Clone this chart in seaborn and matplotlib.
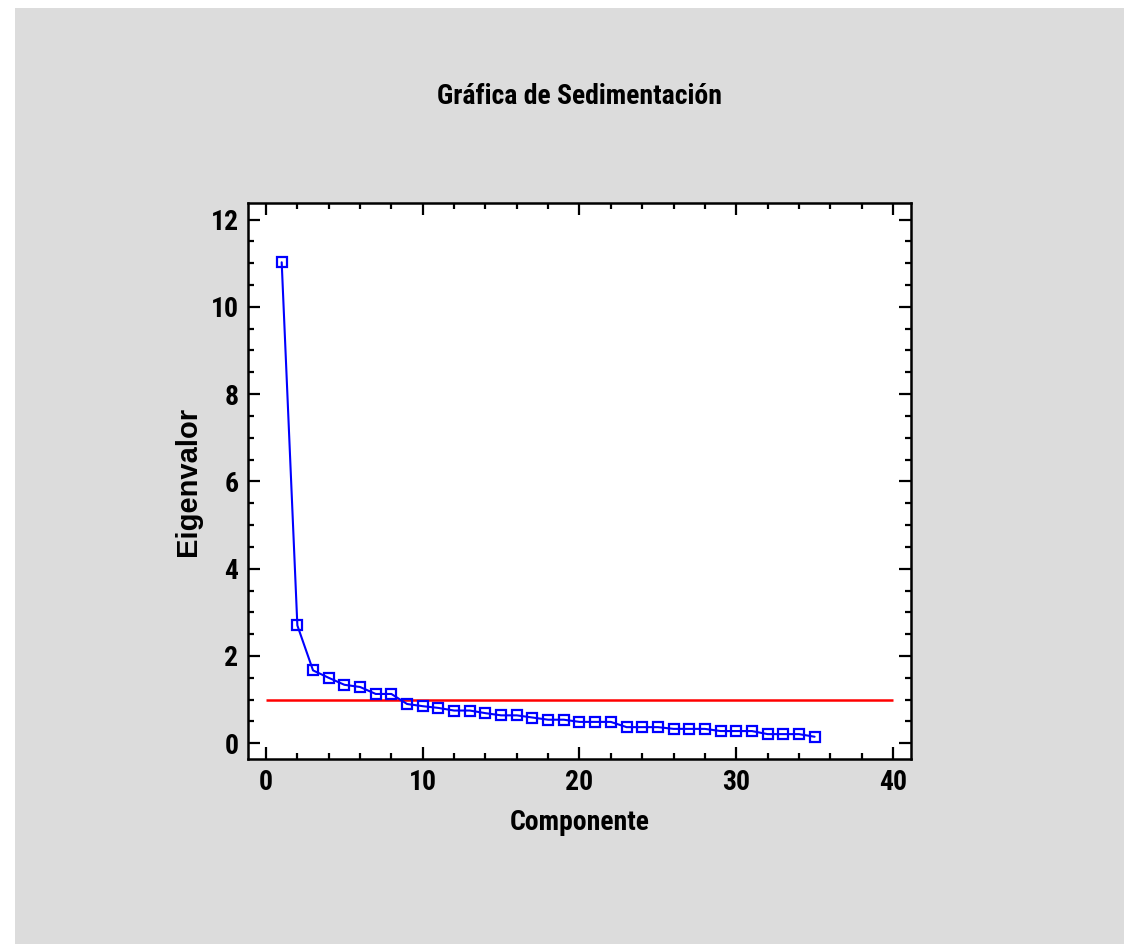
import numpy as np
import matplotlib
matplotlib.use("Agg")
import matplotlib.pyplot as plt
from matplotlib.patches import Rectangle
from matplotlib.ticker import MultipleLocator
import seaborn as sns

# Datos de la gráfica de sedimentación
eigenvalores = [11.02, 2.70, 1.67, 1.50, 1.34, 1.29, 1.13, 1.13, 0.90, 0.85,
                0.81, 0.75, 0.75, 0.69, 0.64, 0.64, 0.59, 0.54, 0.54, 0.49,
                0.49, 0.49, 0.37, 0.37, 0.37, 0.33, 0.33, 0.33, 0.28, 0.28,
                0.28, 0.21, 0.21, 0.21, 0.15]
componentes = list(range(1, len(eigenvalores) + 1))

criterio = 1.0          # línea de referencia (eigenvalor = 1)
criterio_x = [0, 40]    # extremos de la línea

xticks = [0, 10, 20, 30, 40]
yticks = [0, 2, 4, 6, 8, 10, 12]

titulo = "Gráfica de Sedimentación"
xlabel = "Componente"
ylabel = "Eigenvalor"

# Estilo
sns.set_theme(style="ticks")
fuente_condensada = ["Roboto Condensed", "Liberation Sans", "DejaVu Sans"]
plt.rcParams["font.family"] = fuente_condensada

W, H = 1124, 944
fig = plt.figure(figsize=(W / 100, H / 100), dpi=100)
fig.patch.set_facecolor("white")
fig.patches.append(Rectangle((15 / W, 0), 1, 1 - 8 / H, transform=fig.transFigure,
                             facecolor="#DCDCDC", edgecolor="none", zorder=-10))

left, right, top, bottom = 248.3, 911, 202.7, 759.3
ax = fig.add_axes([left / W, 1 - bottom / H, (right - left) / W, (bottom - top) / H])
ax.set_facecolor("white")

# Línea roja de referencia
ax.hlines(criterio, criterio_x[0], criterio_x[1], color="#FF0000", linewidth=1.8, zorder=2)

# Curva de eigenvalores
sns.lineplot(x=componentes, y=eigenvalores, ax=ax, color="#0000FF", linewidth=1.5,
             marker="s", markersize=7, markerfacecolor="none",
             markeredgecolor="#0000FF", markeredgewidth=1.6, zorder=3)

ax.set_xlim(-1.13, 41.15)
ax.set_ylim(-0.367, 12.385)
ax.set_xticks(xticks)
ax.set_yticks(yticks)
ax.xaxis.set_minor_locator(MultipleLocator(2))
ax.yaxis.set_minor_locator(MultipleLocator(0.5))

ax.tick_params(which="both", direction="in", top=True, right=True, color="black")
ax.tick_params(which="major", length=8.5, width=1.6, pad=7, labelsize=20)
ax.tick_params(which="minor", length=4.3, width=1.6)
for lab in ax.get_xticklabels() + ax.get_yticklabels():
    lab.set_fontweight("bold")
    lab.set_color("black")

for s in ax.spines.values():
    s.set_visible(True)
    s.set_color("black")
    s.set_linewidth(1.8)

ax.set_xlabel(xlabel, fontsize=20, fontweight="bold", color="black")
ax.xaxis.set_label_coords(0.5, -0.089)
ax.set_ylabel(ylabel, fontsize=21, fontweight="bold", color="black",
              family=["Liberation Sans", "DejaVu Sans"], va="center")
ax.yaxis.set_label_coords(-0.091, 0.5)

fig.text((left + right) / 2 / W, 1 - 96 / H, titulo, ha="center", va="center",
         fontsize=20, fontweight="bold", color="black")

fig.savefig("out.png", dpi=100, facecolor=fig.get_facecolor())
